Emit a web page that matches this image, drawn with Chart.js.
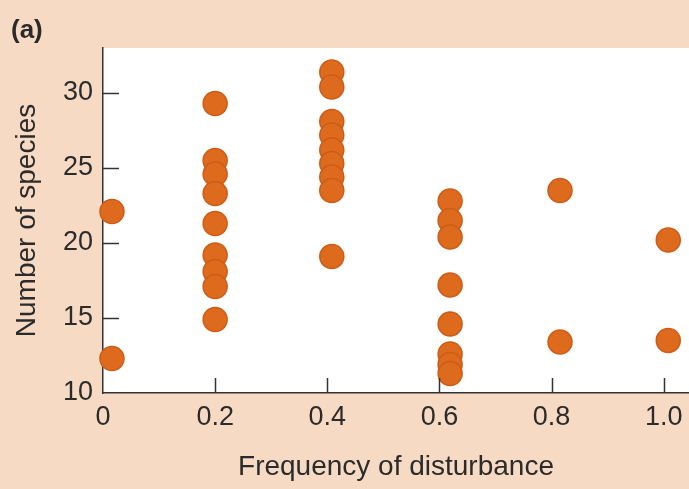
<!DOCTYPE html>
<html>
<head>
<meta charset="utf-8">
<script src="https://cdn.jsdelivr.net/npm/chart.js@4/dist/chart.umd.min.js"></script>
<style>
  html, body { margin: 0; padding: 0; background: #F6DAC4; }
  #wrap { position: relative; width: 689px; height: 489px; }
  canvas { display: block; }
  #lbl { position: absolute; left: 11px; top: 14px; font: bold 26px "Liberation Sans", Arial, sans-serif; color: #2a2a2a; }
</style>
</head>
<body>
<div id="wrap">
  <canvas id="c" width="689" height="489"></canvas>
  <div id="lbl">(a)</div>
</div>
<script>
// ---- data ----
const frequency = [0.016, 0.2, 0.408, 0.619, 0.815, 1.008];
const speciesAt00 = [22.1, 12.3];
const speciesAt02 = [29.3, 25.5, 24.6, 23.3, 21.3, 19.2, 18.1, 17.1, 14.9];
const speciesAt04 = [31.4, 30.4, 28.1, 27.2, 26.2, 25.3, 24.4, 23.5, 19.1];
const speciesAt06 = [22.8, 21.5, 20.4, 17.2, 14.6, 12.6, 11.9, 11.3];
const speciesAt08 = [23.5, 13.4];
const speciesAt10 = [20.2, 13.5];
const xTicks = [0, 0.2, 0.4, 0.6, 0.8, 1.0];
const xTickLabels = ['0', '0.2', '0.4', '0.6', '0.8', '1.0'];
const yTicks = [10, 15, 20, 25, 30];
const xTitle = 'Frequency of disturbance';
const yTitle = 'Number of species';

const groups = [speciesAt00, speciesAt02, speciesAt04, speciesAt06, speciesAt08, speciesAt10];
const points = [];
groups.forEach((g, i) => g.forEach(v => points.push({ x: frequency[i], y: v })));

const FONT = '"Liberation Sans", Arial, sans-serif';
const TXT = '#2b2b2b';

const whiteArea = {
  id: 'whiteArea',
  beforeDraw(chart) {
    const { ctx, chartArea: a } = chart;
    ctx.save();
    ctx.fillStyle = '#ffffff';
    ctx.fillRect(a.left, a.top, a.right - a.left, a.bottom - a.top);
    ctx.restore();
  }
};

const innerTicks = {
  id: 'innerTicks',
  afterDatasetsDraw(chart) {
    const { ctx, chartArea: a, scales } = chart;
    ctx.save();
    ctx.strokeStyle = '#333';
    ctx.lineWidth = 1.5;
    yTicks.forEach(v => {
      if (v === scales.y.min) return;
      const py = Math.round(scales.y.getPixelForValue(v)) + 0.5;
      ctx.beginPath(); ctx.moveTo(a.left, py); ctx.lineTo(a.left + 16, py); ctx.stroke();
    });
    xTicks.forEach(v => {
      if (v === 0) return;
      const px = Math.round(scales.x.getPixelForValue(v)) + 0.5;
      ctx.beginPath(); ctx.moveTo(px, a.bottom); ctx.lineTo(px, a.bottom - 15); ctx.stroke();
    });
    ctx.restore();
  }
};

new Chart(document.getElementById('c'), {
  type: 'scatter',
  data: {
    datasets: [{
      data: points,
      backgroundColor: 'rgb(222,106,30)',
      borderColor: 'rgb(205,92,22)',
      borderWidth: 1.5,
      pointRadius: 12,
      pointHoverRadius: 12,
      clip: false
    }]
  },
  options: {
    responsive: false,
    animation: false,
    events: [],
    layout: { autoPadding: false, padding: { top: 48, right: 0, left: 0, bottom: 0 } },
    plugins: { legend: { display: false }, tooltip: { enabled: false } },
    scales: {
      x: {
        type: 'linear',
        min: 0,
        max: 1.045,
        afterBuildTicks(s) { s.ticks = xTicks.map(v => ({ value: v })); },
        afterFit(s) { s.height = 96; s.paddingLeft = 0; s.paddingRight = 0; },
        grid: { display: false, drawTicks: false },
        border: { display: true, color: '#333', width: 1.5 },
        ticks: {
          padding: 8,
          color: TXT,
          font: { family: FONT, size: 27 },
          maxRotation: 0,
          autoSkip: false,
          callback(v) { const i = xTicks.indexOf(v); return i >= 0 ? xTickLabels[i] : ''; }
        },
        title: {
          display: true,
          text: xTitle,
          color: TXT,
          font: { family: FONT, size: 28 },
          padding: { top: 0, bottom: 5 }
        }
      },
      y: {
        type: 'linear',
        min: 10,
        max: 33,
        afterBuildTicks(s) { s.ticks = yTicks.map(v => ({ value: v })); },
        afterFit(s) { s.width = 103; s.paddingTop = 0; s.paddingBottom = 0; },
        grid: { display: false, drawTicks: false },
        border: { display: true, color: '#333', width: 1.5 },
        ticks: {
          padding: 10,
          color: TXT,
          font: { family: FONT, size: 27 },
          autoSkip: false,
          callback(v) { return String(v); }
        },
        title: {
          display: true,
          text: yTitle,
          color: TXT,
          font: { family: FONT, size: 28 },
          padding: { top: 10, bottom: 0 }
        }
      }
    }
  },
  plugins: [whiteArea, innerTicks]
});
</script>
</body>
</html>
